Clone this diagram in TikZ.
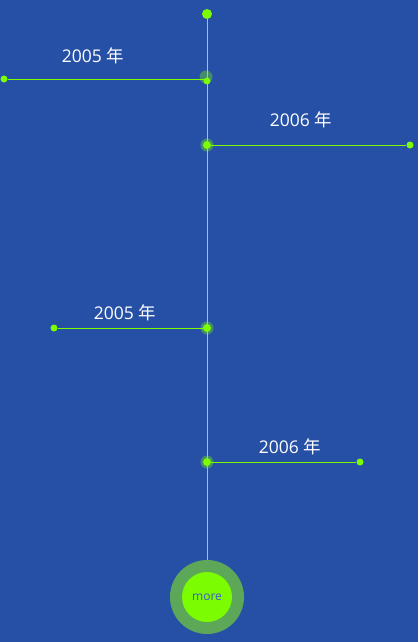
\documentclass[tikz,border=0pt]{standalone}
\usepackage{fontspec}
\setmainfont{Open Sans}
\newfontfamily\cjk{Noto Sans CJK SC}
\definecolor{bgblue}{RGB}{38,80,166}
\definecolor{lgreen}{RGB}{124,252,0}
\definecolor{ringgreen}{RGB}{92,168,88}
\definecolor{moreblue}{RGB}{60,90,200}
\begin{document}
\begin{tikzpicture}[x=1pt,y=-1pt,
  enddot/.style={circle,fill=lgreen,inner sep=0pt,minimum size=7pt},
  hubdot/.style={circle,fill=lgreen,inner sep=0pt,minimum size=8pt},
  glow/.style={circle,fill=lgreen,fill opacity=0.35,inner sep=0pt,minimum size=13pt},
  topdot/.style={circle,fill=lgreen,inner sep=0pt,minimum size=10pt},
  link/.style={draw=lgreen,line width=0.9pt},
  yearlabel/.style={text=white,font=\fontsize{17.5}{20}\selectfont,inner sep=0pt}]
\fill[bgblue] (0,0) rectangle (418,642);
\useasboundingbox (0,0) rectangle (418,642);
% bottom button
\node[circle,fill=ringgreen,inner sep=0pt,minimum size=74pt] (ring) at (207,597) {};
\node[circle,fill=lgreen,inner sep=0pt,minimum size=50pt,text=moreblue,font=\fontsize{12}{14}\selectfont] (more) at (207,597) {more};
% spine
\node[topdot] (top) at (207,14) {};
\coordinate (h1) at (207,80);
\coordinate (h2) at (207,145);
\coordinate (h3) at (207,328);
\coordinate (h4) at (207,462);
\draw[link] (top) -- (ring.north);
% row 1
\node[enddot] (e1) at (4,79) {};
\draw[link] (e1) -- (h1 |- e1);
\node[glow] (g1) at (206,77) {};
\node[hubdot,minimum size=7pt] (d1) at (207,81) {};
\node[yearlabel] (t1) at (93,56) {2005 {\cjk 年}};
% row 2
\node[enddot] (e2) at (410,145) {};
\node[glow] (g2) at (h2) {};
\node[hubdot] (d2) at (h2) {};
\draw[link] (d2) -- (e2);
\node[yearlabel] (t2) at (301,120) {2006 {\cjk 年}};
% row 3
\node[enddot] (e3) at (54,328) {};
\node[glow] (g3) at (h3) {};
\node[hubdot] (d3) at (h3) {};
\draw[link] (e3) -- (d3);
\node[yearlabel] (t3) at (125,313) {2005 {\cjk 年}};
% row 4
\node[enddot] (e4) at (360,462) {};
\node[glow] (g4) at (h4) {};
\node[hubdot] (d4) at (h4) {};
\draw[link] (d4) -- (e4);
\node[yearlabel] (t4) at (290,447) {2006 {\cjk 年}};
\end{tikzpicture}
\end{document}
